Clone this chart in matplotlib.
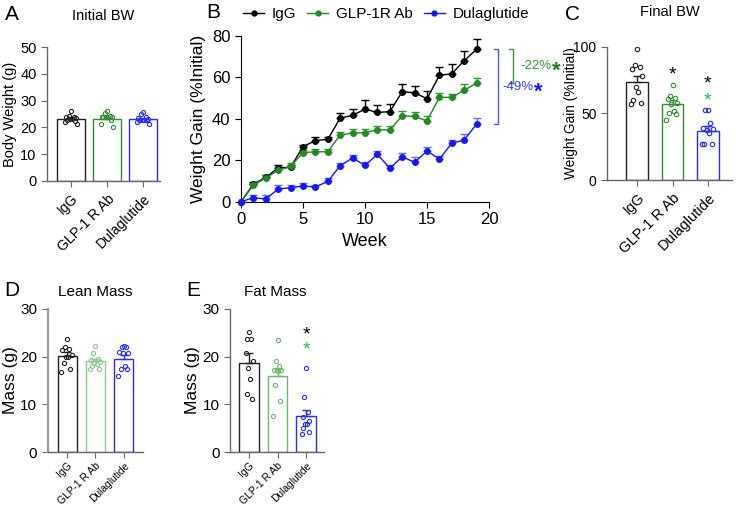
import numpy as np
import matplotlib
matplotlib.use('Agg')
import matplotlib.pyplot as plt
from matplotlib.lines import Line2D

plt.rcParams['font.family'] = ['Liberation Sans', 'DejaVu Sans']

groups = ['IgG', 'GLP-1 R Ab', 'Dulaglutide']

# Panel A - initial body weight (g)
init_mean = [23.3, 23.3, 23.2]
init_sem = [0.4, 0.5, 0.4]
init_pts = [
    [26.3, 24.2, 24.0, 23.8, 23.3, 23.0, 22.8, 22.5, 22.0, 21.2, 23.5],
    [26.0, 25.3, 24.4, 24.0, 23.7, 23.7, 23.7, 23.7, 22.6, 21.2, 20.2],
    [25.9, 25.0, 24.0, 23.5, 22.8, 22.8, 22.8, 22.8, 22.0, 21.3, 23.2],
]

# Panel B - weight gain time course (% initial)
weeks = list(range(20))
igg_gain = [0, 8.5, 11.7, 16.4, 16.6, 26.6, 29.5, 30.1, 40.4, 41.7, 44.7, 43.1, 43.5,
            53.1, 52.6, 49.7, 61.0, 61.8, 68.1, 73.6]
igg_err = [0, 0.8, 1.0, 1.2, 1.3, 1.0, 1.5, 1.3, 2.3, 3.0, 4.3, 3.5, 3.7, 3.7, 3.4,
           3.9, 3.9, 4.5, 4.7, 4.8]
glp_gain = [0, 8.0, 11.5, 15.1, 17.0, 23.7, 24.1, 24.1, 32.2, 33.2, 33.3, 34.8, 34.6,
            41.5, 41.2, 39.0, 50.4, 50.4, 53.8, 57.3]
glp_err = [0, 1.0, 1.6, 1.2, 1.8, 1.5, 1.5, 1.5, 1.5, 2.0, 2.0, 1.8, 2.0, 2.5, 2.2,
           2.2, 2.2, 1.8, 2.8, 2.5]
dula_gain = [0, 1.9, 1.3, 6.1, 6.8, 7.6, 7.1, 9.8, 17.4, 21.1, 17.5, 22.9, 16.1,
             21.7, 19.0, 24.5, 20.6, 28.2, 29.8, 37.5]
dula_err = [0, 1.5, 1.8, 2.0, 1.5, 1.5, 1.2, 1.8, 1.3, 1.6, 1.6, 1.5, 1.5, 1.8, 2.6,
            1.8, 1.6, 1.8, 2.8, 2.8]

# Panel C - final weight gain (% initial)
final_mean = [73.3, 57.0, 37.0]
final_sem = [4.8, 3.0, 3.5]
final_pts = [
    [98.5, 86.5, 84.5, 83.0, 78.0, 70.0, 66.0, 60.0, 58.0, 57.0],
    [71.0, 63.0, 61.5, 61.0, 58.0, 57.0, 52.0, 50.0, 49.5, 45.0],
    [52.5, 52.5, 43.0, 39.0, 38.0, 37.5, 35.0, 27.0, 27.0, 27.0],
]

# Panel D - lean mass (g)
lean_mean = [20.1, 19.0, 19.5]
lean_sem = [0.8, 0.6, 0.9]
lean_pts = [
    [23.8, 22.0, 21.7, 21.5, 20.4, 20.0, 20.0, 18.7, 17.4, 16.7],
    [22.2, 20.8, 19.5, 19.4, 18.8, 18.4, 18.0, 17.5, 17.5, 18.6],
    [22.2, 22.0, 22.0, 21.0, 20.8, 20.8, 18.0, 17.5, 17.5, 16.0],
]

# Panel E - fat mass (g)
fat_mean = [18.6, 15.9, 7.5]
fat_sem = [2.1, 1.6, 1.4]
fat_pts = [
    [25.1, 23.8, 23.8, 20.8, 19.0, 17.6, 15.3, 12.1, 11.1],
    [23.6, 19.0, 18.1, 17.3, 17.3, 17.3, 16.9, 14.1, 10.6, 7.6],
    [17.6, 11.5, 8.3, 7.4, 6.6, 5.9, 5.9, 5.0, 4.1, 3.7],
]

BLACK = '#222222'
GREEN = '#2f8f2f'
BLUE = '#2b2bff'
STAR_GREEN = '#22bb55'


def spread(n, w):
    # deterministic side-by-side offsets for the dots
    pattern = [0, -1, 1, -2, 2, -0.5, 0.5, -1.5, 1.5, -2.5, 2.5]
    return np.array([pattern[i % len(pattern)] for i in range(n)]) * w


def bar_panel(ax, means, sems, pts, colors, width, ylim, yticks, dot_w, ms=3.2):
    x = np.arange(len(means))
    for i in x:
        ax.bar(i, means[i], width=width, facecolor='white', edgecolor=colors[i], linewidth=1.0, zorder=1)
        ax.errorbar(i, means[i], yerr=[[0], [sems[i]]], color=colors[i], capsize=3, elinewidth=1,
                    capthick=1, zorder=3)
        p = np.sort(np.array(pts[i]))[::-1]
        ax.plot(i + spread(len(p), dot_w), p, 'o', mfc='none', mec=colors[i], ms=ms, mew=0.8, zorder=4)
    ax.set_ylim(*ylim)
    ax.set_yticks(yticks)
    ax.set_xticks(x)
    ax.spines['top'].set_visible(False)
    ax.spines['right'].set_visible(False)
    for s in ['left', 'bottom']:
        ax.spines[s].set_color('#666666')
        ax.spines[s].set_linewidth(1.0)
    ax.tick_params(axis='both', direction='out', length=4, color='#666666')


def main():
    fig = plt.figure(figsize=(7.38, 5.08), dpi=100)
    W, H = 738.0, 508.0

    def add(l, r, t, b):
        return fig.add_axes([l / W, 1 - b / H, (r - l) / W, (b - t) / H])

    bar_cols = [BLACK, GREEN, BLUE]

    # A
    axA = add(47, 160, 47, 181)
    bar_panel(axA, init_mean, init_sem, init_pts, bar_cols, 0.78, (0, 50), range(0, 51, 10), 0.07, ms=3.0)
    axA.set_xlim(-0.67, 2.47)
    axA.set_xticklabels(groups, rotation=45, ha='right', rotation_mode='anchor', fontsize=10)
    axA.tick_params(axis='y', labelsize=10.5)
    axA.set_ylabel('Body Weight (g)', fontsize=10.5, labelpad=2)
    fig.text(103 / W, 1 - 16 / H, 'Initial BW', ha='center', va='center', fontsize=10.5)

    # B
    axB = add(241, 489, 36, 201.7)
    series = [(igg_gain, igg_err, 'black', 'black', 'IgG'),
              (glp_gain, glp_err, '#1e8c1e', '#2e9a2e', 'GLP-1R Ab'),
              (dula_gain, dula_err, '#1515ff', '#6a6aff', 'Dulaglutide')]
    handles = []
    for vals, err, c, ec, lab in series:
        axB.errorbar(weeks, vals, yerr=[np.zeros(len(err)), err], fmt='none', ecolor=ec,
                     elinewidth=1, capsize=3, capthick=1, zorder=2)
        axB.plot(weeks, vals, '-o', color=c, ms=4.0, lw=1.0, zorder=3, clip_on=False)
        handles.append(Line2D([], [], color=c, marker='o', ms=3.5, lw=1.0, label=lab))
    axB.set_xlim(0, 20)
    axB.set_ylim(0, 80)
    axB.set_xticks([0, 5, 10, 15, 20])
    axB.set_yticks([0, 20, 40, 60, 80])
    axB.spines['top'].set_visible(False)
    axB.spines['right'].set_visible(False)
    axB.tick_params(axis='both', direction='out', length=4, labelsize=12)
    axB.set_xlabel('Week', fontsize=13)
    axB.set_ylabel('Weight Gain (%Initial)', fontsize=12.5)
    fig.legend(handles=handles, loc='center', bbox_to_anchor=(386 / W, 1 - 14 / H), ncol=3,
               frameon=False, fontsize=11, handlelength=1.4, handletextpad=0.5, columnspacing=0.7)

    # brackets comparing week 19 values
    top = igg_gain[-1]
    for xb, low, c in [(21.94, glp_gain[-1], '#3a9a3a'), (20.73, dula_gain[-1], '#5555ff')]:
        axB.plot([xb - 0.3, xb, xb, xb - 0.3], [top, top, low, low], color=c, lw=1.0, clip_on=False)
    yg = (top + glp_gain[-1]) / 2
    yd = (top + dula_gain[-1]) / 2
    axB.text(22.5, yg, '-22%', color='#2e9a2e', fontsize=9.5, va='center', ha='left')
    axB.text(25.1, yg - 2.5, '*', color='#1e7a1e', fontsize=16, fontweight='bold', va='center', ha='left')
    axB.text(21.05, yd, '-49%', color='#3a3aff', fontsize=9.5, va='center', ha='left')
    axB.text(23.6, yd - 2.5, '*', color='#1515ff', fontsize=16, fontweight='bold', va='center', ha='left')

    # C
    axC = add(607, 732, 46.7, 180)
    bar_panel(axC, final_mean, final_sem, final_pts, bar_cols, 0.62, (0, 100), [0, 50, 100], 0.07)
    axC.set_xlim(-0.85, 2.68)
    axC.set_xticklabels(groups, rotation=45, ha='right', rotation_mode='anchor', fontsize=10.5)
    axC.tick_params(axis='y', labelsize=10)
    axC.set_ylabel('Weight Gain (%Initial)', fontsize=9.8)
    axC.yaxis.set_label_coords(-0.235, 0.5)
    axC.text(1, 79, '*', ha='center', va='center', fontsize=14, color='black')
    axC.text(2, 72, '*', ha='center', va='center', fontsize=14, color='black')
    axC.text(2, 59, '*', ha='center', va='center', fontsize=14, color=STAR_GREEN)
    fig.text(670 / W, 1 - 12 / H, 'Final BW', ha='center', va='center', fontsize=10.5)

    # D
    axD = add(47.7, 143, 309, 452)
    bar_panel(axD, lean_mean, lean_sem, lean_pts, [BLACK, '#8cc88c', BLUE], 0.67, (0, 30),
              [0, 10, 20, 30], 0.08, ms=3.0)
    axD.set_xlim(-0.68, 2.67)
    axD.spines['left'].set_color('#999999')
    axD.spines['left'].set_linewidth(1.6)
    axD.set_xticklabels(groups, rotation=45, ha='right', rotation_mode='anchor', fontsize=7.4)
    axD.tick_params(axis='x', pad=2)
    axD.tick_params(axis='y', labelsize=11)
    axD.set_ylabel('Mass (g)', fontsize=12.5, labelpad=2)
    fig.text(95 / W, 1 - 292 / H, 'Lean Mass', ha='center', va='center', fontsize=11)

    # E
    axE = add(230, 324, 309, 452)
    bar_panel(axE, fat_mean, fat_sem, fat_pts, [BLACK, '#6cb86c', BLUE], 0.68, (0, 30),
              [0, 10, 20, 30], 0.06, ms=3.0)
    axE.set_xlim(-0.67, 2.63)
    axE.set_xticklabels(groups, rotation=45, ha='right', rotation_mode='anchor', fontsize=7.4)
    axE.tick_params(axis='x', pad=2)
    axE.tick_params(axis='y', labelsize=11)
    axE.set_ylabel('Mass (g)', fontsize=12.5, labelpad=2)
    axE.text(2, 24.6, '*', ha='center', va='center', fontsize=14, color='black')
    axE.text(2, 21.4, '*', ha='center', va='center', fontsize=14, color=STAR_GREEN)
    fig.text(275 / W, 1 - 292 / H, 'Fat Mass', ha='center', va='center', fontsize=11)

    # panel letters
    for lab, x, y in [('A', 12, 14), ('B', 213, 13), ('C', 572, 14), ('D', 12, 290), ('E', 193, 290)]:
        fig.text(x / W, 1 - y / H, lab, ha='center', va='center', fontsize=15)

    fig.savefig('out.png', dpi=100)


if __name__ == "__main__":
    main()
